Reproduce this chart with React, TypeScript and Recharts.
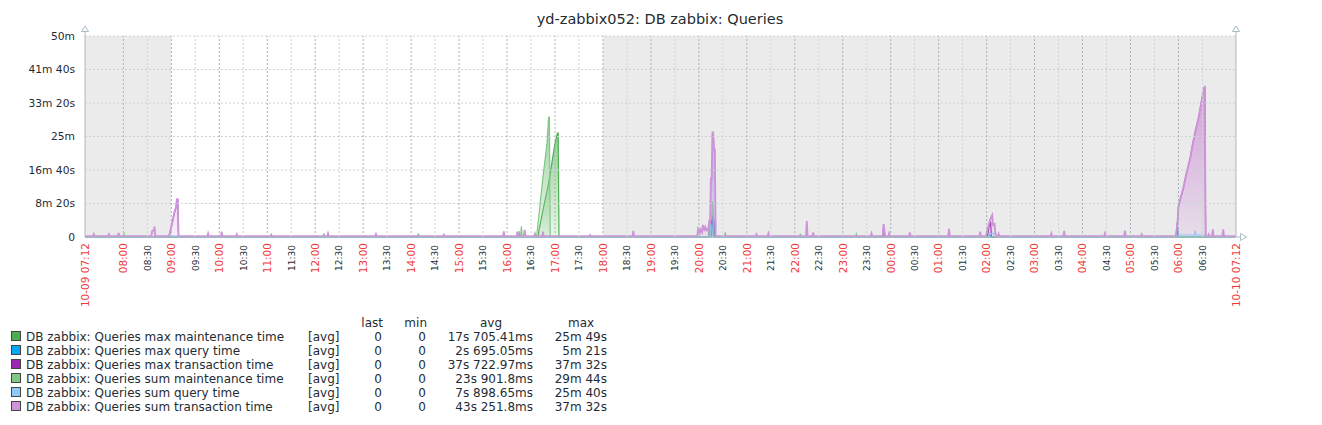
import React from "react";
import {
  ComposedChart,
  Area,
  XAxis,
  YAxis,
  ReferenceArea,
  ReferenceLine,
  ReferenceDot,
} from "recharts";

const TITLE = "yd-zabbix052: DB zabbix: Queries";
const FONT = "DejaVu Sans";
const TEXT = "#1f2c33";
const RED = "#f03a3a";
const AXIS = "#acbbc2";

// legend
const seriesKeys = ["maxMaint", "maxQuery", "maxTrans", "sumMaint", "sumQuery", "sumTrans"];
const seriesNames = [
  "DB zabbix: Queries max maintenance time",
  "DB zabbix: Queries max query time",
  "DB zabbix: Queries max transaction time",
  "DB zabbix: Queries sum maintenance time",
  "DB zabbix: Queries sum query time",
  "DB zabbix: Queries sum transaction time",
];
const seriesColors = ["#4caf50", "#03a9f4", "#9c27b0", "#81c784", "#90caf9", "#ce93d8"];
const legendLast = ["0", "0", "0", "0", "0", "0"];
const legendMin = ["0", "0", "0", "0", "0", "0"];
const legendAvg = ["17s 705.41ms", "2s 695.05ms", "37s 722.97ms", "23s 901.8ms", "7s 898.65ms", "43s 251.8ms"];
const legendMax = ["25m 49s", "5m 21s", "37m 32s", "29m 44s", "25m 40s", "37m 32s"];

// axes
const yTicks = [0, 500, 1000, 1500, 2000, 2500, 3000];
const yTickLabels = ["0", "8m 20s", "16m 40s", "25m", "33m 20s", "41m 40s", "50m"];
const startLabel = "10-09 07:12";
const endLabel = "10-10 07:12";
const timeTicks = [
  "08:00", "08:30", "09:00", "09:30", "10:00", "10:30", "11:00", "11:30", "12:00", "12:30",
  "13:00", "13:30", "14:00", "14:30", "15:00", "15:30", "16:00", "16:30", "17:00", "17:30",
  "18:00", "18:30", "19:00", "19:30", "20:00", "20:30", "21:00", "21:30", "22:00", "22:30",
  "23:00", "23:30", "00:00", "00:30", "01:00", "01:30", "02:00", "02:30", "03:00", "03:30",
  "04:00", "04:30", "05:00", "05:30", "06:00", "06:30",
];
const workStart = "09:00";
const workEnd = "18:00";

// values in seconds, [time, value]
const maxMaintenance: [string, number][] = [
  ["07:12", 0],
  ["16:39", 0], ["16:40", 104], ["16:45", 403], ["16:52", 802], ["16:56", 1100], ["17:00", 1399], ["17:03", 1549], ["17:04", 1549], ["17:05", 0],
  ["20:13", 0], ["20:15", 150], ["20:17", 300], ["20:18", 250], ["20:19", 0],
  ["07:11", 0],
];
const maxQuery: [string, number][] = [
  ["07:12", 0],
  ["20:16", 0], ["20:17", 321], ["20:18", 200], ["20:19", 0],
  ["02:03", 0], ["02:04", 40], ["02:05", 0],
  ["05:58", 0], ["05:59", 130], ["06:00", 0],
  ["07:11", 0],
];
const maxTransaction: [string, number][] = [
  ["07:12", 0],
  ["08:57", 0], ["08:58", 50], ["09:00", 150], ["09:02", 255], ["09:04", 370], ["09:06", 445], ["09:07", 560], ["09:08", 560], ["09:09", 0],
  ["20:12", 0], ["20:13", 120], ["20:15", 280], ["20:16", 200], ["20:17", 300], ["20:19", 250], ["20:20", 0],
  ["23:50", 0], ["23:51", 130], ["23:52", 0],
  ["02:01", 0], ["02:03", 150], ["02:05", 230], ["02:06", 0],
  ["05:56", 0], ["05:57", 25], ["05:59", 250], ["06:00", 445], ["06:03", 595], ["06:06", 720], ["06:09", 890], ["06:12", 1040],
  ["06:15", 1190], ["06:18", 1390], ["06:21", 1565], ["06:25", 1765], ["06:28", 1960], ["06:31", 2160], ["06:33", 2252], ["06:34", 0],
  ["07:11", 0],
];
const sumMaintenance: [string, number][] = [
  ["07:12", 0],
  ["08:00", 0], ["08:01", 45], ["08:02", 0],
  ["12:10", 0], ["12:11", 55], ["12:12", 0],
  ["14:08", 0], ["14:09", 55], ["14:10", 0],
  ["16:14", 0], ["16:15", 90], ["16:16", 0],
  ["16:17", 0], ["16:18", 160], ["16:19", 0],
  ["16:37", 0], ["16:38", 104], ["16:41", 452], ["16:45", 900], ["16:50", 1399], ["16:52", 1784], ["16:53", 1784], ["16:54", 0],
  ["20:12", 0], ["20:13", 104], ["20:14", 200], ["20:15", 303], ["20:16", 250], ["20:17", 527], ["20:18", 354], ["20:19", 0],
  ["20:32", 0], ["20:33", 70], ["20:34", 0],
  ["22:06", 0], ["22:07", 50], ["22:08", 0],
  ["23:16", 0], ["23:17", 45], ["23:18", 0],
  ["07:11", 0],
];
const sumQuery: [string, number][] = [
  ["07:12", 0],
  ["08:55", 0], ["08:56", 15], ["09:08", 15], ["09:09", 0],
  ["20:14", 0], ["20:15", 600], ["20:16", 880], ["20:17", 1540], ["20:18", 1540], ["20:19", 1300], ["20:20", 1300], ["20:21", 0],
  ["02:02", 0], ["02:04", 50], ["02:10", 50], ["02:12", 0],
  ["05:56", 0], ["05:57", 30], ["06:20", 30], ["06:21", 95], ["06:22", 30], ["06:34", 30], ["06:35", 0],
  ["07:11", 0],
];
const sumTransaction: [string, number][] = [
  ["07:12", 12],
  ["07:22", 12], ["07:23", 45], ["07:24", 12],
  ["07:41", 12], ["07:42", 40], ["07:43", 12],
  ["07:53", 12], ["07:54", 60], ["07:55", 12],
  ["08:35", 12], ["08:36", 90], ["08:38", 100], ["08:39", 155], ["08:40", 12],
  ["08:57", 12], ["08:58", 55], ["09:00", 155], ["09:02", 264], ["09:04", 378], ["09:06", 452], ["09:07", 565], ["09:08", 565], ["09:09", 12],
  ["09:45", 12], ["09:46", 55], ["09:47", 12],
  ["10:02", 12], ["10:03", 80], ["10:04", 12],
  ["10:21", 12], ["10:22", 40], ["10:23", 12],
  ["11:04", 12], ["11:05", 35], ["11:06", 12],
  ["12:15", 12], ["12:16", 55], ["12:17", 12],
  ["13:15", 12], ["13:16", 45], ["13:17", 12],
  ["14:40", 12], ["14:41", 35], ["14:42", 12],
  ["15:55", 12], ["15:56", 85], ["15:57", 12],
  ["16:12", 12], ["16:13", 80], ["16:14", 12],
  ["16:21", 12], ["16:22", 105], ["16:23", 12],
  ["16:34", 12], ["16:35", 50], ["16:36", 12],
  ["16:44", 12], ["16:45", 80], ["16:46", 12],
  ["17:43", 12], ["17:44", 30], ["17:45", 12],
  ["18:37", 12], ["18:38", 90], ["18:39", 12],
  ["19:58", 12], ["19:59", 115], ["20:01", 60], ["20:02", 115], ["20:04", 70], ["20:05", 180], ["20:07", 90], ["20:08", 150],
  ["20:10", 100], ["20:12", 130], ["20:13", 254], ["20:14", 180], ["20:15", 876], ["20:16", 876], ["20:17", 1563], ["20:18", 1563],
  ["20:19", 1309], ["20:20", 1309], ["20:21", 12],
  ["21:11", 12], ["21:12", 40], ["21:13", 12],
  ["21:26", 12], ["21:27", 55], ["21:28", 12],
  ["22:14", 12], ["22:15", 239], ["22:16", 12],
  ["22:22", 12], ["22:23", 70], ["22:24", 12],
  ["23:35", 12], ["23:36", 55], ["23:37", 12],
  ["23:50", 12], ["23:51", 194], ["23:52", 130], ["23:53", 12],
  ["23:57", 12], ["23:58", 55], ["23:59", 12],
  ["00:23", 12], ["00:24", 70], ["00:25", 12],
  ["01:12", 12], ["01:13", 120], ["01:14", 12],
  ["01:51", 12], ["01:52", 80], ["01:53", 12],
  ["01:59", 12], ["02:00", 55], ["02:02", 154], ["02:04", 244], ["02:06", 303], ["02:07", 328], ["02:08", 179], ["02:10", 194], ["02:11", 55], ["02:12", 12],
  ["02:14", 12], ["02:15", 50], ["02:16", 12],
  ["03:20", 12], ["03:21", 55], ["03:22", 12],
  ["03:36", 12], ["03:37", 90], ["03:38", 12],
  ["04:27", 12], ["04:28", 55], ["04:29", 12],
  ["04:52", 12], ["04:53", 95], ["04:54", 12],
  ["05:13", 12], ["05:14", 40], ["05:15", 12],
  ["05:56", 12], ["05:57", 30], ["05:59", 254], ["06:00", 452], ["06:03", 601], ["06:06", 727], ["06:09", 900], ["06:12", 1050],
  ["06:15", 1200], ["06:18", 1399], ["06:21", 1573], ["06:25", 1772], ["06:28", 1970], ["06:31", 2169], ["06:33", 2252], ["06:34", 12],
  ["06:37", 12], ["06:38", 40], ["06:39", 12],
  ["06:42", 12], ["06:43", 115], ["06:44", 12],
  ["06:55", 12], ["06:56", 115], ["06:57", 12],
  ["07:11", 12],
];

// minutes since 10-09 07:12
const toMin = (hm: string) => {
  const [h, m] = hm.split(":").map(Number);
  return (h * 60 + m - 432 + 1440) % 1440;
};

const seriesPoints: Record<string, [string, number][]> = {
  maxMaint: maxMaintenance,
  maxQuery: maxQuery,
  maxTrans: maxTransaction,
  sumMaint: sumMaintenance,
  sumQuery: sumQuery,
  sumTrans: sumTransaction,
};

const rows = new Map<number, any>();
seriesKeys.forEach((key) => {
  seriesPoints[key].forEach(([hm, v]) => {
    const t = toMin(hm);
    const row = rows.get(t) ?? { t };
    row[key] = v;
    rows.set(t, row);
  });
});
const chartData = [...rows.values()].sort((a, b) => a.t - b.t);

const tickMins = [0, ...timeTicks.map(toMin), 1440];
const tickLabel = new Map<number, string>(timeTicks.map((l) => [toMin(l), l]));
tickLabel.set(0, startLabel);
tickLabel.set(1440, endLabel);

const TimeTick = ({ x, y, payload }: any) => {
  const label = tickLabel.get(payload.value) ?? "";
  const major = payload.value === 0 || payload.value === 1440 || label.endsWith(":00");
  const size = major ? 10.5 : 9;
  const tx = x + (major ? 3.8 : 3.3);
  const ty = y + (major ? 0 : 2);
  return (
    <text
      x={tx}
      y={ty}
      transform={`rotate(-90 ${tx} ${ty})`}
      textAnchor="end"
      fontSize={size}
      fontFamily={FONT}
      fill={major ? RED : TEXT}
    >
      {label}
    </text>
  );
};

const yFormat = (v: number) => yTickLabels[yTicks.indexOf(v)] ?? "";

const UpArrow = ({ cx, cy }: any) => (
  <g>
    <line x1={cx} y1={cy} x2={cx} y2={cy - 5} stroke={AXIS} />
    <polygon points={`${cx},${cy - 10} ${cx - 3.5},${cy - 4.5} ${cx + 3.5},${cy - 4.5}`} fill="#fff" stroke={AXIS} />
  </g>
);
const RightArrow = ({ cx, cy }: any) => (
  <g>
    <line x1={cx} y1={cy} x2={cx + 5} y2={cy} stroke={AXIS} />
    <polygon points={`${cx + 10.5},${cy} ${cx + 4.5},${cy - 3.5} ${cx + 4.5},${cy + 3.5}`} fill="#fff" stroke={AXIS} />
  </g>
);

const strokeW: Record<string, number> = {
  maxMaint: 1.2, maxQuery: 1.2, maxTrans: 1.2, sumMaint: 1.2, sumQuery: 1.2, sumTrans: 1.8,
};
const fillTop: Record<string, number> = {
  maxMaint: 0.6, maxQuery: 0, maxTrans: 0, sumMaint: 0.8, sumQuery: 0.6, sumTrans: 0.85,
};

const legendRowY = [341, 355, 369, 383, 397, 411];

export default function App() {
  return (
    <div style={{ position: "absolute", left: 0, top: 0, width: 1322, height: 425, background: "#fff" }}>
      <div style={{ position: "absolute", left: 0, top: 0 }}>
        <ComposedChart
          width={1322}
          height={425}
          data={chartData}
          margin={{ top: 36, right: 6, bottom: 108, left: 5 }}
        >
          <defs>
            {seriesKeys.map((k, i) => (
              <linearGradient key={k} id={`g-${k}`} x1="0" y1="0" x2="0" y2="1">
                <stop offset="0%" stopColor={seriesColors[i]} stopOpacity={fillTop[k]} />
                <stop offset="100%" stopColor={seriesColors[i]} stopOpacity={fillTop[k] * 0.18} />
              </linearGradient>
            ))}
          </defs>
          <XAxis
            dataKey="t"
            type="number"
            domain={[0, 1440]}
            ticks={tickMins}
            interval={0}
            tick={<TimeTick />}
            tickLine={false}
            tickSize={0}
            tickMargin={6}
            axisLine={{ stroke: AXIS }}
            height={80}
            allowDataOverflow
          />
          <YAxis
            domain={[0, 3000]}
            ticks={yTicks}
            interval={0}
            tickFormatter={yFormat}
            tickLine={false}
            tickSize={0}
            tickMargin={10}
            axisLine={{ stroke: AXIS }}
            width={80}
            tick={{ fontSize: 10.7, fill: TEXT, fontFamily: FONT }}
          />
          <YAxis
            yAxisId="right"
            orientation="right"
            domain={[0, 3000]}
            ticks={yTicks}
            interval={0}
            tickFormatter={yFormat}
            tickLine={false}
            tickSize={0}
            tickMargin={12}
            axisLine={{ stroke: AXIS }}
            width={80}
            tick={{ fontSize: 10.7, fill: TEXT, fontFamily: FONT, textAnchor: "start" }}
          />
          <ReferenceArea x1={0} x2={toMin(workStart)} y1={0} y2={3000} fill="#ebebeb" fillOpacity={1} stroke="none" />
          <ReferenceArea x1={toMin(workEnd)} x2={1440} y1={0} y2={3000} fill="#ebebeb" fillOpacity={1} stroke="none" />
          {yTicks.slice(1).map((v) => (
            <ReferenceLine key={`h${v}`} y={v} stroke="#cbd2d6" strokeDasharray="2 2" />
          ))}
          {timeTicks.map((l) => (
            <ReferenceLine
              key={`v${l}`}
              x={toMin(l)}
              stroke={l.endsWith(":00") ? "#a6b1b7" : "#cdd2d5"}
              strokeDasharray="2 2"
            />
          ))}
          {seriesKeys.map((k, i) => (
            <Area
              key={k}
              dataKey={k}
              type="linear"
              stroke={seriesColors[i]}
              strokeWidth={strokeW[k]}
              fill={fillTop[k] > 0 ? `url(#g-${k})` : "none"}
              fillOpacity={1}
              connectNulls
              dot={false}
              activeDot={false}
              isAnimationActive={false}
            />
          ))}
          <ReferenceDot x={0} y={3000} r={0} ifOverflow="visible" shape={<UpArrow />} />
          <ReferenceDot x={1440} y={3000} r={0} ifOverflow="visible" shape={<UpArrow />} />
          <ReferenceDot x={1440} y={0} r={0} ifOverflow="visible" shape={<RightArrow />} />
        </ComposedChart>
      </div>
      <svg
        width={1322}
        height={425}
        style={{ position: "absolute", left: 0, top: 0, pointerEvents: "none" }}
        fontFamily={FONT}
      >
        <text x={660} y={24} textAnchor="middle" fontSize={14.5} fill={TEXT}>
          {TITLE}
        </text>
        <g fontSize={12} fill={TEXT}>
          <text x={383} y={327} textAnchor="end">last</text>
          <text x={427} y={327} textAnchor="end">min</text>
          <text x={480} y={327}>avg</text>
          <text x={568} y={327}>max</text>
          {seriesNames.map((name, i) => (
            <g key={name}>
              <rect x={11.5} y={legendRowY[i] - 9.5} width={9} height={9} fill={seriesColors[i]} stroke="#444" />
              <text x={26} y={legendRowY[i]}>{name}</text>
              <text x={308} y={legendRowY[i]}>[avg]</text>
              <text x={382} y={legendRowY[i]} textAnchor="end">{legendLast[i]}</text>
              <text x={426} y={legendRowY[i]} textAnchor="end">{legendMin[i]}</text>
              <text x={533} y={legendRowY[i]} textAnchor="end">{legendAvg[i]}</text>
              <text x={607} y={legendRowY[i]} textAnchor="end">{legendMax[i]}</text>
            </g>
          ))}
        </g>
      </svg>
    </div>
  );
}
